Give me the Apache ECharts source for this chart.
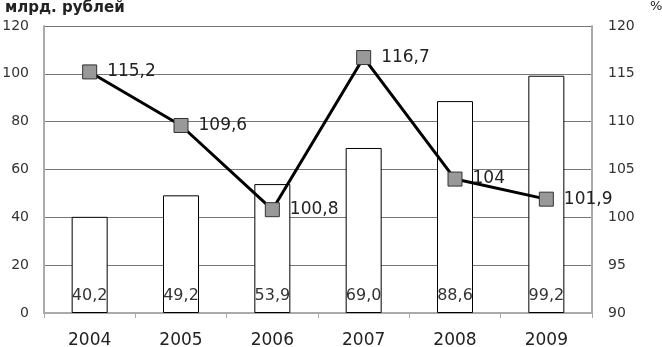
<!DOCTYPE html>
<html><head><meta charset="utf-8">
<script src="https://cdn.jsdelivr.net/npm/echarts@6/dist/echarts.min.js"></script>
<style>html,body{margin:0;padding:0;background:#fff}#c{width:662px;height:347px}</style>
</head><body><div id="c"></div>
<script>
var categories = ['2004','2005','2006','2007','2008','2009'];
var barValues = [40.2, 49.2, 53.9, 69.0, 88.6, 99.2];
var lineValues = [115.2, 109.6, 100.8, 116.7, 104, 101.9];
var leftTicks = {min: 0, max: 120, interval: 20};
var rightTicks = {min: 90, max: 120, interval: 5};

var font = 'DejaVu Sans';
var chart = echarts.init(document.getElementById('c'));
chart.setOption({
  animation: false,
  textStyle: {fontFamily: font},
  grid: {left: 44, right: 70, top: 26, bottom: 34, outerBoundsMode: 'none', containLabel: false},
  graphic: [
    {type: 'text', left: 5, top: 1, style: {text: 'млрд. рублей', font: 'bold 15px DejaVu Sans', fill: '#222'}},
    {type: 'text', left: 650, top: 0, style: {text: '%', font: '13px DejaVu Sans', fill: '#222'}}
  ],
  xAxis: {
    type: 'category', data: categories,
    axisLine: {lineStyle: {color: '#aaa', width: 2}},
    axisTick: {show: true, alignWithLabel: false, lineStyle: {color: '#aaa', width: 1}, length: 5},
    axisLabel: {color: '#222', fontSize: 17, margin: 19, fontFamily: font}
  },
  yAxis: [
    {type: 'value', min: leftTicks.min, max: leftTicks.max, interval: leftTicks.interval,
     axisLine: {show: true, lineStyle: {color: '#aaa', width: 2}},
     axisTick: {show: false},
     splitLine: {lineStyle: {color: '#777', width: 1}},
     axisLabel: {color: '#333', fontSize: 14, margin: 15, fontFamily: font}},
    {type: 'value', min: rightTicks.min, max: rightTicks.max, interval: rightTicks.interval,
     axisLine: {show: true, lineStyle: {color: '#aaa', width: 2}},
     axisTick: {show: false},
     splitLine: {show: false},
     axisLabel: {color: '#333', fontSize: 14, margin: 16, fontFamily: font}}
  ],
  series: [
    {type: 'bar', data: barValues, barWidth: 36, yAxisIndex: 0,
     itemStyle: {color: '#fff', borderColor: '#000', borderWidth: 1},
     label: {show: true, position: 'insideBottom', distance: 9, color: '#333', fontSize: 16, fontFamily: font,
             formatter: function(p){ return p.value.toFixed(1).replace('.', ','); }}},
    {type: 'line', data: lineValues, yAxisIndex: 1, z: 5,
     symbol: 'rect', symbolSize: 14,
     lineStyle: {color: '#000', width: 3},
     itemStyle: {color: '#999', borderColor: '#333', borderWidth: 1},
     label: {show: true, position: 'right', distance: 10, color: '#222', fontSize: 17, fontFamily: font,
             formatter: function(p){ return String(p.value).replace('.', ','); }}}
  ]
});
</script></body></html>
